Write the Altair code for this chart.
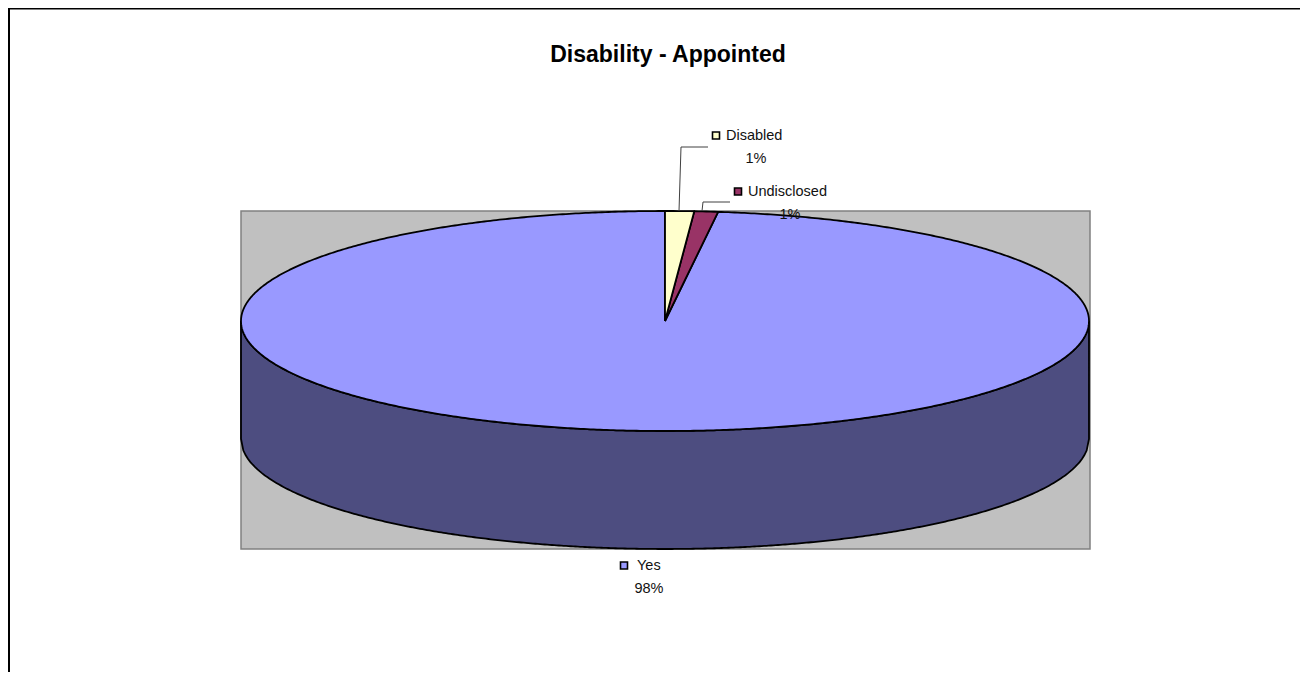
import numpy as np
import pandas as pd
import altair as alt

# --- values ---
categories = ["Disabled", "Undisclosed", "Yes"]
shares = [1.1, 0.9, 98.0]
labels = ["1%", "1%", "98%"]
colors = ["#FFFFCC", "#993366", "#9999FF"]
title = "Disability - Appointed"

# --- layout, in page pixels ---
W, H = 1292, 664
OX, OY = 8, 8
CX, CY, RX, RY, DEPTH = 665, 321, 424, 110, 118
PLOT = (241, 211, 1090, 549)
WALL = "#4D4D80"
key_pos = [(716, 135.5), (738, 191.5), (624, 565.5)]
name_pos = [(726, 136), (748, 192), (637, 566)]
pct_pos = [(756, 159), (790, 215), (649, 589)]
leaders = [[(708, 147), (681, 147), (679, 211)], [(730, 202), (703, 202), (702, 211)]]

def px(x): return x - OX
def py(y): return y - OY

sx = alt.Scale(domain=[0, W], range=[0, W], nice=False, zero=False)
sy = alt.Scale(domain=[0, H], range=[0, H], nice=False, zero=False)
xs = alt.X("x:Q", scale=sx, axis=None)
ys = alt.Y("y:Q", scale=sy, axis=None)

# background plot rectangle
bg = alt.Chart(pd.DataFrame([{"x": px(PLOT[0]), "x2": px(PLOT[2]), "y": py(PLOT[1]), "y2": py(PLOT[3])}])).mark_rect(
    fill="#C0C0C0", stroke="#808080", strokeWidth=1.5
).encode(x=xs, x2="x2:Q", y=ys, y2="y2:Q")

# side wall of the pie
t = np.linspace(-1, 1, 361)
wall_df = pd.DataFrame({
    "x": px(CX + RX * t),
    "y": py(CY + RY * np.sqrt(1 - t ** 2)),
    "y2": py(CY + RY * np.sqrt(1 - t ** 2) + DEPTH),
})
wall = alt.Chart(wall_df).mark_area(fill=WALL, stroke="black", strokeWidth=1.8, opacity=1).encode(
    x=xs, y=ys, y2="y2:Q"
)

# top face: one closed sector per share, clockwise from twelve o'clock
rows = []
start = 0.0
total = sum(shares)
for cat, share in zip(categories, shares):
    end = start + share / total * 2 * np.pi
    a = np.linspace(start, end, max(3, int(share * 8)))
    pts = [(CX, CY)] + [(CX + RX * np.sin(v), CY - RY * np.cos(v)) for v in a] + [(CX, CY)]
    for i, (x, y) in enumerate(pts):
        rows.append({"cat": cat, "i": i, "x": px(x), "y": py(y)})
    start = end
sect_df = pd.DataFrame(rows)

sectors = []
for cat, col in zip(categories[::-1], colors[::-1]):
    sectors.append(
        alt.Chart(sect_df[sect_df.cat == cat]).mark_line(
            fill=col, stroke="black", strokeWidth=1.8, strokeJoin="round"
        ).encode(x=xs, y=ys, order="i:Q")
    )

# leader lines
lead_rows = []
for k, path in enumerate(leaders):
    for i, (x, y) in enumerate(path):
        lead_rows.append({"k": k, "i": i, "x": px(x), "y": py(y)})
lead = alt.Chart(pd.DataFrame(lead_rows)).mark_line(stroke="#404040", strokeWidth=1).encode(
    x=xs, y=ys, detail="k:N", order="i:Q"
)

# label keys and text
lab_df = pd.DataFrame({
    "cat": categories, "pct": labels, "color": colors,
    "kx": [px(p[0]) for p in key_pos], "ky": [py(p[1]) for p in key_pos],
    "nx": [px(p[0]) for p in name_pos], "ny": [py(p[1]) for p in name_pos],
    "px": [px(p[0]) for p in pct_pos], "py": [py(p[1]) for p in pct_pos],
})
keys = alt.Chart(lab_df).mark_square(size=49, stroke="black", strokeWidth=1.6, opacity=1, filled=True).encode(
    x=alt.X("kx:Q", scale=sx, axis=None), y=alt.Y("ky:Q", scale=sy, axis=None),
    fill=alt.Fill("color:N", scale=None),
)
names = alt.Chart(lab_df).mark_text(align="left", baseline="middle", font="Liberation Sans", fontSize=14.5, color="#111111").encode(
    x=alt.X("nx:Q", scale=sx, axis=None), y=alt.Y("ny:Q", scale=sy, axis=None), text="cat:N"
)
pcts = alt.Chart(lab_df).mark_text(align="center", baseline="middle", font="Liberation Sans", fontSize=14.5, color="#111111").encode(
    x=alt.X("px:Q", scale=sx, axis=None), y=alt.Y("py:Q", scale=sy, axis=None), text="pct:N"
)
ttl = alt.Chart(pd.DataFrame([{"x": px(668), "y": py(55), "t": title}])).mark_text(
    align="center", baseline="middle", font="Liberation Sans", fontSize=23, fontWeight="bold", color="black"
).encode(x=xs, y=ys, text="t:N")

# outer frame: top and left edges only
frame = alt.Chart(pd.DataFrame([{"x": 0, "y": 0.5, "x2": W, "y2": 0.5}, {"x": 1, "y": 0, "x2": 1, "y2": H}])).mark_rule(
    color="black", strokeWidth=2
).encode(x=xs, x2="x2:Q", y=ys, y2="y2:Q")

chart = alt.layer(frame, bg, wall, *sectors, lead, keys, names, pcts, ttl).properties(
    width=W, height=H, padding=0, autosize=alt.AutoSizeParams(type="none"), background="white"
).configure_view(stroke=None)

chart.save("out.html", embed_options={"renderer": "svg", "actions": False})
